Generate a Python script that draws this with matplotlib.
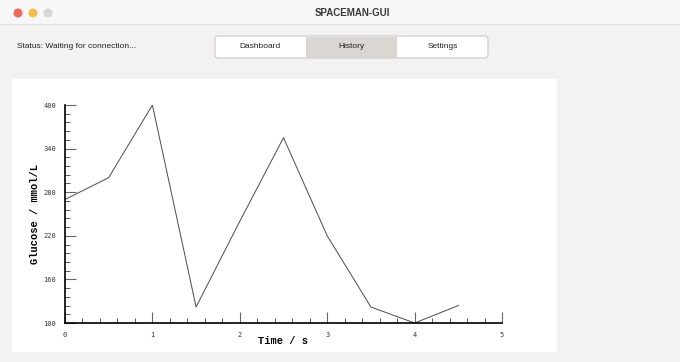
import matplotlib.pyplot as plt
from matplotlib.patches import Rectangle, Circle, FancyBboxPatch

# Messwerte
time = [0, 0.5, 1, 1.5, 2, 2.5, 3, 3.5, 4, 4.5]
glucose = [270, 300, 400, 122, 240, 355, 220, 122, 100, 124]

tabs = ["Dashboard", "History", "Settings"]
active_tab = "History"
status = "Status: Waiting for connection..."
window_title = "SPACEMAN-GUI"

W, H = 680, 362
fig = plt.figure(figsize=(W / 100, H / 100), dpi=100)
fig.patch.set_facecolor('#f3f2f0')

# Fensterrahmen (Pixelkoordinaten)
bg = fig.add_axes([0, 0, 1, 1])
bg.set_xlim(0, W)
bg.set_ylim(H, 0)
bg.axis('off')

bg.add_patch(Rectangle((0, 0), W, 24, facecolor='#f7f7f7', edgecolor='none'))
bg.plot([0, W], [24, 24], color='#e0e0e0', lw=0.8)
for cx, col in zip([18, 33, 48], ['#ed6a5e', '#f5bf4f', '#d6d6d6']):
    bg.add_patch(Circle((cx, 13), 4.5, facecolor=col, edgecolor='none'))
bg.text(352, 13, window_title, ha='center', va='center', fontsize=7,
        fontweight='bold', color='#3a3a3a', family='Liberation Sans')

bg.text(17, 46, status, ha='left', va='center', fontsize=6,
        color='#222222', family='Liberation Sans')

# Reiter
x0, seg_w = 215, 91
bg.add_patch(FancyBboxPatch((x0, 36), seg_w * len(tabs), 22,
                            boxstyle='round,pad=0,rounding_size=3',
                            facecolor='white', edgecolor='#c9c9c9', lw=0.8))
for i, name in enumerate(tabs):
    if name == active_tab:
        bg.add_patch(Rectangle((x0 + i * seg_w, 36.5), seg_w, 21,
                               facecolor='#dad7d3', edgecolor='none'))
    bg.text(x0 + (i + 0.5) * seg_w, 47, name, ha='center', va='center',
            fontsize=6, color='#222222', family='Liberation Sans')

# weisse Plotflaeche
bg.add_patch(Rectangle((12, 79), 545, 273, facecolor='white', edgecolor='none'))

# eigentlicher Plot
left, right, top, bottom = 65, 502, 105, 323
ax = fig.add_axes([left / W, (H - bottom) / H, (right - left) / W, (bottom - top) / H])
ax.patch.set_alpha(0)
ax.plot(time, glucose, color='#4a4a4a', lw=0.7)
ax.set_xlim(0, 5)
ax.set_ylim(100, 400)
ax.set_xticks([0, 1, 2, 3, 4, 5])
ax.set_xticks([i * 0.2 for i in range(26)], minor=True)
ax.set_yticks([100, 160, 220, 280, 340, 400])
ax.set_yticks([100 + 12 * i for i in range(26)], minor=True)

for s in ['top', 'right']:
    ax.spines[s].set_visible(False)
for s in ['left', 'bottom']:
    ax.spines[s].set_linewidth(1.2)
    ax.spines[s].set_color('black')

ax.tick_params(which='major', direction='in', length=8, width=0.8, color='#666666',
               labelsize=5, pad=6.5, labelcolor='#333333')
ax.tick_params(which='minor', direction='in', length=3.8, width=0.7, color='#555555')
for lab in ax.get_xticklabels() + ax.get_yticklabels():
    lab.set_family('DejaVu Sans Mono')

ax.set_xlabel("Time / s", family='Liberation Mono', fontweight='bold', fontsize=7.5)
ax.set_ylabel("Glucose / mmol/L", family='Liberation Mono', fontweight='bold', fontsize=7.5)
ax.xaxis.set_label_coords(0.5, -18 / (bottom - top))
ax.xaxis.label.set_va('center')
ax.yaxis.set_label_coords((35 - left) / (right - left), 0.5)
ax.yaxis.label.set_va('center')

fig.savefig("out.png", dpi=100)
